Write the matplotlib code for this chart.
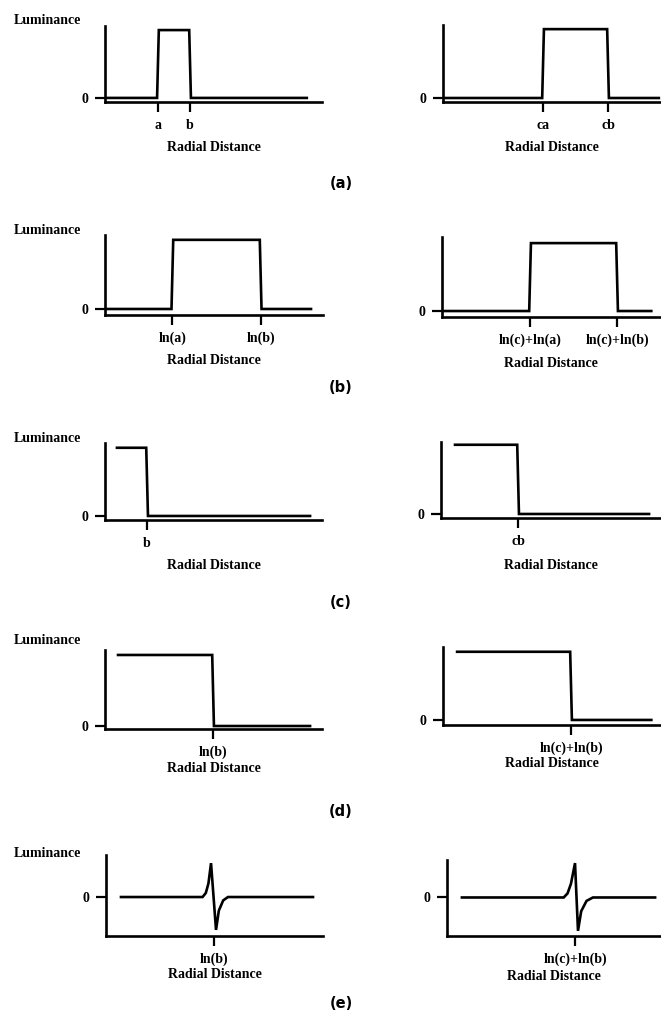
import matplotlib.pyplot as plt

W, H = 661, 1022

# ---- signal profiles (x: 0..100 along the axis, y: 0 = zero level, 1 = step height)
a_left_x = [0, 24.0, 24.8, 38.8, 39.6, 93]
a_left_y = [0, 0, 1, 1, 0, 0]
a_left_ticks = [24.4, 39.2]
a_left_labels = ["a", "b"]

a_right_x = [0, 45.5, 46.3, 75.3, 76.1, 99]
a_right_y = [0, 0, 1, 1, 0, 0]
a_right_ticks = [45.9, 75.7]
a_right_labels = ["ca", "cb"]

b_left_x = [0, 30.5, 31.3, 71.0, 71.8, 94.5]
b_left_y = [0, 0, 1, 1, 0, 0]
b_left_ticks = [30.9, 71.4]
b_left_labels = ["ln(a)", "ln(b)"]

b_right_x = [0, 40.0, 40.8, 79.9, 80.7, 96]
b_right_y = [0, 0, 1, 1, 0, 0]
b_right_ticks = [40.4, 80.3]
b_right_labels = ["ln(c)+ln(a)", "ln(c)+ln(b)"]

c_left_x = [5.5, 19.0, 19.8, 94.5]
c_left_y = [1, 1, 0, 0]
c_left_ticks = [19.4]
c_left_labels = ["b"]

c_right_x = [6.4, 34.8, 35.6, 95]
c_right_y = [1, 1, 0, 0]
c_right_ticks = [35.2]
c_right_labels = ["cb"]

d_left_x = [6.0, 49.4, 50.2, 94.5]
d_left_y = [1, 1, 0, 0]
d_left_ticks = [49.8]
d_left_labels = ["ln(b)"]

d_right_x = [6.5, 58.6, 59.4, 96]
d_right_y = [1, 1, 0, 0]
d_right_ticks = [59.0]
d_right_labels = ["ln(c)+ln(b)"]

e_left_x = [6.9, 44.5, 46.0, 47.2, 48.4, 50.7, 52.0, 54.0, 56.2, 95.4]
e_left_y = [0, 0, 0.12, 0.4, 1.0, -0.97, -0.4, -0.1, 0, 0]
e_left_ticks = [49.8]
e_left_labels = ["ln(b)"]

e_right_x = [7.0, 54.8, 56.6, 58.2, 60.1, 61.5, 63.0, 65.5, 68.5, 97.7]
e_right_y = [0, 0, 0.12, 0.4, 1.0, -0.97, -0.4, -0.1, 0, 0]
e_right_ticks = [60.1]
e_right_labels = ["ln(c)+ln(b)"]

row_names = ["(a)", "(b)", "(c)", "(d)", "(e)"]

# ---- layout in pixels: (x0, x1, top, baseline), ylim, xlabel offset
panels = [
    (a_left_x, a_left_y, a_left_ticks, a_left_labels, (105, 322, 26, 102), (-0.06, 1.06), 45),
    (a_right_x, a_right_y, a_right_ticks, a_right_labels, (443, 661, 25, 102), (-0.058, 1.06), 45),
    (b_left_x, b_left_y, b_left_ticks, b_left_labels, (105, 323, 235, 315), (-0.087, 1.07), 45),
    (b_right_x, b_right_y, b_right_ticks, b_right_labels, (442, 660, 237, 317), (-0.088, 1.09), 46),
    (c_left_x, c_left_y, c_left_ticks, c_left_labels, (105, 322, 443, 520), (-0.059, 1.07), 45),
    (c_right_x, c_right_y, c_right_ticks, c_right_labels, (441, 660, 442, 518), (-0.058, 1.04), 47),
    (d_left_x, d_left_y, d_left_ticks, d_left_labels, (105, 322, 650, 729), (-0.042, 1.07), 39),
    (d_right_x, d_right_y, d_right_ticks, d_right_labels, (443, 660, 647, 725), (-0.074, 1.07), 38),
    (e_left_x, e_left_y, e_left_ticks, e_left_labels, (106, 323, 855, 936), (-1.15, 1.24), 38),
    (e_right_x, e_right_y, e_right_ticks, e_right_labels, (447, 660, 860, 936), (-1.12, 1.09), 41),
]
lum_y = [20, 230, 438, 640, 853]
name_y = [184, 388, 602, 811, 1004]

serif = {"family": "Liberation Serif", "weight": "bold", "size": 10}

fig = plt.figure(figsize=(W / 100, H / 100), dpi=100)

for i, (xs, ys, ticks, labels, box, ylim, lab_off) in enumerate(panels):
    x0, x1, top, base = box
    ax = fig.add_axes([x0 / W, 1 - base / H, (x1 - x0) / W, (base - top) / H])
    ax.plot(xs, ys, color="black", lw=1.9, solid_joinstyle="miter")
    ax.set_xlim(0, 100)
    ax.set_ylim(*ylim)
    for s in ["top", "right"]:
        ax.spines[s].set_visible(False)
    for s in ["left", "bottom"]:
        ax.spines[s].set_linewidth(1.9)
    ax.set_xticks(ticks)
    ax.set_xticklabels(labels, fontdict=serif)
    ax.set_yticks([0])
    ax.set_yticklabels(["0"], fontdict=serif)
    ax.tick_params(axis="x", direction="out", length=7, width=1.6, pad=5)
    ax.tick_params(axis="y", direction="out", length=7, width=1.6, pad=5)
    ax.set_xlabel("Radial Distance", fontdict=serif)
    ax.xaxis.label.set_va("center")
    ax.xaxis.set_label_coords(0.5, -lab_off / (base - top))

    if i % 2 == 0:
        fig.text(47 / W, 1 - lum_y[i // 2] / H, "Luminance", ha="center", va="center", **serif)

for name, y in zip(row_names, name_y):
    fig.text(341 / W, 1 - y / H, name, ha="center", va="center",
             family="DejaVu Sans", weight="bold", size=10.5)

fig.savefig("out.png", dpi=100)
